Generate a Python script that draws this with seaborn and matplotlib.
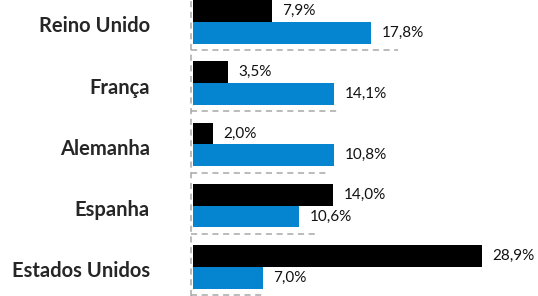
import matplotlib
matplotlib.use("Agg")
import matplotlib.pyplot as plt
import seaborn as sns
import pandas as pd

countries = ["Reino Unido", "França", "Alemanha", "Espanha", "Estados Unidos"]
series_names = ["A", "B"]
black_values = [7.9, 3.5, 2.0, 14.0, 28.9]
# blue bar lengths as drawn in the picture (Alemanha bar is drawn at 14,1 length)
blue_values = [17.8, 14.1, 14.1, 10.6, 7.0]
black_labels = ["7,9%", "3,5%", "2,0%", "14,0%", "28,9%"]
blue_labels = ["17,8%", "14,1%", "10,8%", "10,6%", "7,0%"]
guide_lengths = [20.5, 14.5, 13.5, 12.2, 7.0]

BLACK = "#000000"
BLUE = "#0584d0"
GREY = "#a8a8a8"

df = pd.DataFrame({
    "country": countries * 2,
    "series": [series_names[0]] * len(countries) + [series_names[1]] * len(countries),
    "value": black_values + blue_values,
})

sns.set_style("white")
plt.rcParams["font.family"] = ["Lato", "DejaVu Sans"]

W, H = 538, 296
fig = plt.figure(figsize=(W / 100, H / 100), dpi=100)
left_px = 193
ax = fig.add_axes([left_px / W, 0, 1 - left_px / W, 1])

sns.barplot(data=df, y="country", x="value", hue="series", orient="h",
            palette=[BLACK, BLUE], width=0.71, dodge=True, legend=False,
            saturation=1, linewidth=0, gap=0, ax=ax, order=countries,
            hue_order=series_names)

ax.set_xlim(0, (W - left_px) / 10)
unit = 61.2
ax.set_ylim((H - 22) / unit, -22 / unit)

for cont, labs in zip(ax.containers, [black_labels, blue_labels]):
    ax.bar_label(cont, labels=labs, padding=7.5, fontsize=11, color="#111111")

# dashed guides
xv = -0.23
ax.plot([xv, xv], [(H - 22) / unit, -22 / unit], color=GREY, lw=1.1,
        ls=(0, (4, 3)), clip_on=False, zorder=0)
for i, L in enumerate(guide_lengths):
    y = i + 0.46
    ax.plot([xv, L], [y, y], color=GREY, lw=1.1, ls=(0, (4, 3)),
            clip_on=False, zorder=0)

ax.set_xlabel("")
ax.set_ylabel("")
ax.set_xticks([])
ax.set_yticks([i + 0.04 for i in range(len(countries))])
ax.set_yticklabels(countries, fontsize=14.5, fontweight="bold")
ax.tick_params(axis="y", length=0, pad=31)
for s in ax.spines.values():
    s.set_visible(False)

fig.savefig("out.png", dpi=100)
